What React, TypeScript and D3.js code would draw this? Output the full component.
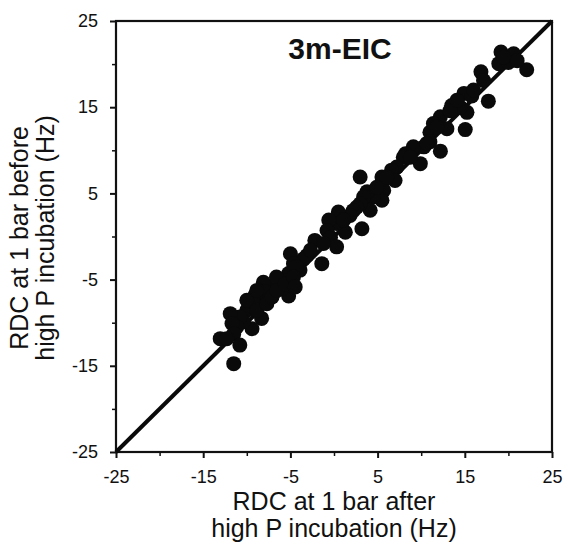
import React, { useEffect, useRef } from "react";
import * as d3 from "d3";

// RDC after (x) / before (y) high pressure incubation, Hz
const rdcAfter = [
  22.1, 19.15, 20.6, 18.9, 20.0, 21.0, 16.85, 17.15, 17.7, 14.9, 15.8, 13.5, 15.25, 14.5,
  12.2, 15.05, 12.95, 11.0, 11.4, 12.2, 9.9, 10.3, 11.0, 9.1, 8.2, 7.95, 7.2, 6.6, 7.0,
  5.5, 3.0, 5.7, 5.5, 4.5, 4.15, 3.8, 3.4, 3.0, 2.6, 2.2, 3.2, 1.85, 1.3, 0.5, 0.3, -0.6,
  -0.8, -0.4, 0.3, -1.4, -2.2, -3.1, -3.5, -3.9, -5.0, -4.65, -5.2, -5.8, -5.2, -6.0,
  -6.75, -7.3, -8.1, -7.9, -8.5, -9.05, -9.2, -8.3, -10.0, -9.4, -10.4, -10.8, -11.15,
  -11.9, -11.7, -11.5, -10.8, -13.05, -12.3, -11.5, -10.0, -8.85, -6.6, -4.3, -2.7, -1.2,
  1.1, 4.9, 6.05, 8.75, 10.65, 11.8, 13.3, 14.1, 16.0, 19.45, -8.85, -7.7, -7.1, -6.55,
  -5.6, -4.65, -4.45,
];
const rdcBefore = [
  19.35, 21.4, 21.2, 20.05, 20.2, 20.4, 19.1, 18.1, 15.7, 16.6, 16.3, 15.2, 14.4, 15.0,
  13.9, 12.4, 12.5, 12.1, 13.1, 9.9, 8.45, 10.4, 11.0, 10.4, 9.6, 9.2, 8.05, 7.7, 6.5,
  6.9, 6.9, 5.35, 4.2, 4.6, 3.05, 5.2, 4.6, 3.8, 3.4, 3.0, 0.9, 2.45, 0.5, 2.85, 1.5, 1.9,
  0.7, -0.1, -1.2, -3.15, -0.45, -2.2, -2.6, -3.9, -2.0, -3.15, -4.3, -5.1, -6.9, -6.05,
  -5.65, -6.6, -5.3, -6.4, -7.4, -6.8, -7.8, -9.5, -8.55, -10.7, -9.9, -9.35, -10.5,
  -8.95, -10.1, -11.3, -12.6, -11.85, -11.85, -14.75, -7.4, -6.25, -4.7, -3.5, -1.6, -0.8,
  1.9, 5.7, 6.9, 9.2, 10.8, 12.7, 14.6, 15.8, 17.0, 20.8, -8.55, -7.8, -7.0, -6.25,
  -5.5, -4.7, -5.85,
];
const majorTicks = [-25, -15, -5, 5, 15, 25];
const minorTicks = [-20, -10, 0, 10, 20];
const title = "3m-EIC";

const App = () => {
  const svgRef = useRef<SVGSVGElement>(null);

  useEffect(() => {
    const svg = d3.select(svgRef.current);
    svg.selectAll("*").remove();

    const left = 116, right = 552, top = 21, bottom = 452;
    const x = d3.scaleLinear().domain([-25, 25]).range([left, right]);
    const y = d3.scaleLinear().domain([-25, 25]).range([bottom, top]);
    const font = "Liberation Sans, Arial, sans-serif";
    const fmt = (d: any) => String(d);

    // minor ticks
    svg.append("g")
      .attr("transform", `translate(0,${bottom})`)
      .call(d3.axisBottom(x).tickValues(minorTicks).tickSize(4).tickFormat(() => ""))
      .call(g => g.select(".domain").remove())
      .selectAll("line").attr("stroke", "#111").attr("stroke-width", 1.5);
    svg.append("g")
      .attr("transform", `translate(${left},0)`)
      .call(d3.axisLeft(y).tickValues(minorTicks).tickSize(4).tickFormat(() => ""))
      .call(g => g.select(".domain").remove())
      .selectAll("line").attr("stroke", "#111").attr("stroke-width", 1.5);

    // major ticks + labels
    const xAxis = svg.append("g")
      .attr("transform", `translate(0,${bottom})`)
      .call(d3.axisBottom(x).tickValues(majorTicks).tickSize(6).tickPadding(12).tickFormat(fmt));
    xAxis.select(".domain").remove();
    xAxis.selectAll("line").attr("stroke", "#111").attr("stroke-width", 2);
    xAxis.selectAll("text").attr("font-family", font).attr("font-size", 18).attr("fill", "#111");

    const yAxis = svg.append("g")
      .attr("transform", `translate(${left},0)`)
      .call(d3.axisLeft(y).tickValues(majorTicks).tickSize(6).tickPadding(12).tickFormat(fmt));
    yAxis.select(".domain").remove();
    yAxis.selectAll("line").attr("stroke", "#111").attr("stroke-width", 2);
    yAxis.selectAll("text").attr("font-family", font).attr("font-size", 18).attr("fill", "#111");

    // frame
    svg.append("rect")
      .attr("x", left).attr("y", top)
      .attr("width", right - left).attr("height", bottom - top)
      .attr("fill", "none").attr("stroke", "#111").attr("stroke-width", 2.2);

    // identity line
    svg.append("line")
      .attr("x1", x(-25)).attr("y1", y(-25))
      .attr("x2", x(25)).attr("y2", y(25))
      .attr("stroke", "#0a0a0a").attr("stroke-width", 4);

    // points
    svg.append("g")
      .selectAll("circle")
      .data(rdcAfter.map((v, i) => [v, rdcBefore[i]]))
      .enter()
      .append("circle")
      .attr("cx", d => x(d[0]))
      .attr("cy", d => y(d[1]))
      .attr("r", 7.5)
      .attr("fill", "#0a0a0a");

    // title
    svg.append("text")
      .attr("x", 340).attr("y", 59)
      .attr("text-anchor", "middle")
      .attr("font-family", font).attr("font-weight", "bold").attr("font-size", 30)
      .attr("fill", "#111")
      .text(title);

    // x axis title
    const xt = svg.append("text")
      .attr("text-anchor", "middle")
      .attr("font-family", font).attr("font-size", 25).attr("fill", "#111");
    xt.append("tspan").attr("x", 334).attr("y", 510).text("RDC at 1 bar after");
    xt.append("tspan").attr("x", 334).attr("y", 537).text("high P incubation (Hz)");

    // y axis title
    const yt = svg.append("text")
      .attr("text-anchor", "middle")
      .attr("transform", "translate(0,238) rotate(-90)")
      .attr("font-family", font).attr("font-size", 25).attr("fill", "#111");
    yt.append("tspan").attr("x", 0).attr("y", 28).text("RDC at 1 bar before");
    yt.append("tspan").attr("x", 0).attr("y", 54).text("high P incubation (Hz)");
  }, []);

  return (
    <svg
      ref={svgRef}
      width={568}
      height={546}
      style={{ position: "absolute", left: 0, top: 0, background: "white" }}
    />
  );
};

export default App;
